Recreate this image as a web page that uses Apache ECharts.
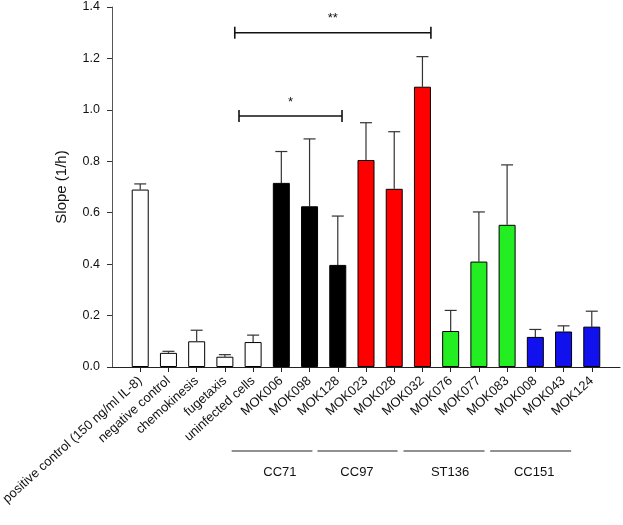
<!DOCTYPE html>
<html><head><meta charset="utf-8">
<script src="https://cdn.jsdelivr.net/npm/echarts@6/dist/echarts.min.js"></script>
<style>html,body{margin:0;padding:0;background:#fff}#c{width:623px;height:525px}</style>
</head><body><div id="c"></div>
<script>
const categories = ['positive control (150 ng/ml IL-8)','negative control','chemokinesis','fugetaxis','uninfected cells','MOK006','MOK098','MOK128','MOK023','MOK028','MOK032','MOK076','MOK077','MOK083','MOK008','MOK043','MOK124'];
const slopes = [0.69, 0.055, 0.10, 0.04, 0.097, 0.716, 0.625, 0.397, 0.805, 0.693, 1.09, 0.14, 0.41, 0.553, 0.117, 0.138, 0.157];
const errors = [0.022, 0.006, 0.043, 0.008, 0.027, 0.122, 0.262, 0.19, 0.145, 0.222, 0.117, 0.08, 0.193, 0.233, 0.029, 0.022, 0.06];
const barColors = ['#ffffff','#ffffff','#ffffff','#ffffff','#ffffff','#000000','#000000','#000000','#ff0000','#ff0000','#ff0000','#22ee22','#22ee22','#22ee22','#1111ee','#1111ee','#1111ee'];
const yTicks = [0, 0.2, 0.4, 0.6, 0.8, 1.0, 1.2, 1.4];
// significance brackets: [start position, end position, level, mark]
const brackets = [[4.35, 11.3, 1.30, '**'], [4.5, 8.15, 0.976, '*']];
// strain groups: [line start, line end, label position, name]
const groups = [[4.24, 7.1, 5.95, 'CC71'], [7.28, 10.12, 8.68, 'CC97'], [10.33, 13.2, 11.98, 'ST136'], [13.4, 16.27, 14.96, 'CC151']];

const positions = categories.map((c, i) => i + 1);
const FONT = "'Liberation Sans', Arial, sans-serif";
const chart = echarts.init(document.getElementById('c'));
chart.setOption({
  animation: false,
  grid: {left: 112, right: 3, top: 7, bottom: 158, containLabel: false, outerBoundsMode: 'none'},
  xAxis: {
    type: 'value', min: 0, max: 18, interval: 1,
    splitLine: {show: false},
    axisLine: {show: true, lineStyle: {color: '#222', width: 1}},
    axisTick: {show: true, customValues: positions, length: 5, lineStyle: {color: '#222'}},
    axisLabel: {customValues: positions, rotate: 42, margin: 12, fontSize: 13, color: '#111', fontFamily: FONT,
      formatter: v => categories[Math.round(v) - 1] || ''}
  },
  yAxis: {
    type: 'value', min: yTicks[0], max: yTicks[yTicks.length - 1], interval: 0.2,
    name: 'Slope (1/h)', nameLocation: 'middle', nameGap: 43,
    nameTextStyle: {fontSize: 15, color: '#111', fontFamily: FONT},
    splitLine: {show: false},
    axisLine: {show: true, lineStyle: {color: '#555', width: 1}},
    axisTick: {show: true, length: 5, lineStyle: {color: '#333'}},
    axisLabel: {margin: 12, fontSize: 12.5, color: '#111', fontFamily: FONT, formatter: v => v.toFixed(1)}
  },
  series: [
    {
      type: 'bar', barWidth: 17,
      data: slopes.map((v, i) => ({value: [positions[i], v], itemStyle: {color: barColors[i], borderColor: '#000', borderWidth: 1}}))
    },
    {
      type: 'custom', z: 1,
      data: slopes.map((v, i) => [positions[i], v, v + errors[i]]),
      renderItem: (params, api) => {
        const p0 = api.coord([api.value(0), api.value(1)]);
        const p1 = api.coord([api.value(0), api.value(2)]);
        const st = {stroke: '#333', lineWidth: 1.2};
        return {type: 'group', children: [
          {type: 'line', shape: {x1: p0[0], y1: p0[1], x2: p1[0], y2: p1[1]}, style: st},
          {type: 'line', shape: {x1: p1[0] - 6, y1: p1[1], x2: p1[0] + 6, y2: p1[1]}, style: st}
        ]};
      }
    },
    {
      type: 'custom', clip: false,
      data: brackets.map(b => [b[0], b[1], b[2]]),
      renderItem: (params, api) => {
        const a = api.coord([api.value(0), api.value(2)]);
        const b = api.coord([api.value(1), api.value(2)]);
        const st = {stroke: '#111', lineWidth: 1.6};
        const mark = brackets[params.dataIndex][3];
        return {type: 'group', children: [
          {type: 'line', shape: {x1: a[0], y1: a[1], x2: b[0], y2: b[1]}, style: st},
          {type: 'line', shape: {x1: a[0], y1: a[1] - 6, x2: a[0], y2: a[1] + 6}, style: st},
          {type: 'line', shape: {x1: b[0], y1: b[1] - 6, x2: b[0], y2: b[1] + 6}, style: st},
          {type: 'text', style: {text: mark, x: (a[0] + b[0]) / 2, y: a[1] - 14, align: 'center', verticalAlign: 'middle', fontSize: 13, fill: '#111', fontFamily: FONT}}
        ]};
      }
    },
    {
      type: 'custom', clip: false,
      data: groups.map(g => [g[0], g[1], g[2]]),
      renderItem: (params, api) => {
        const a = api.coord([api.value(0), 0]);
        const b = api.coord([api.value(1), 0]);
        const c = api.coord([api.value(2), 0]);
        return {type: 'group', children: [
          {type: 'line', shape: {x1: a[0], y1: a[1] + 84, x2: b[0], y2: b[1] + 84}, style: {stroke: '#222', lineWidth: 1.2}},
          {type: 'text', style: {text: groups[params.dataIndex][3], x: c[0], y: c[1] + 105, align: 'center', verticalAlign: 'middle', fontSize: 13, fill: '#111', fontFamily: FONT}}
        ]};
      }
    }
  ]
});
</script></body></html>
